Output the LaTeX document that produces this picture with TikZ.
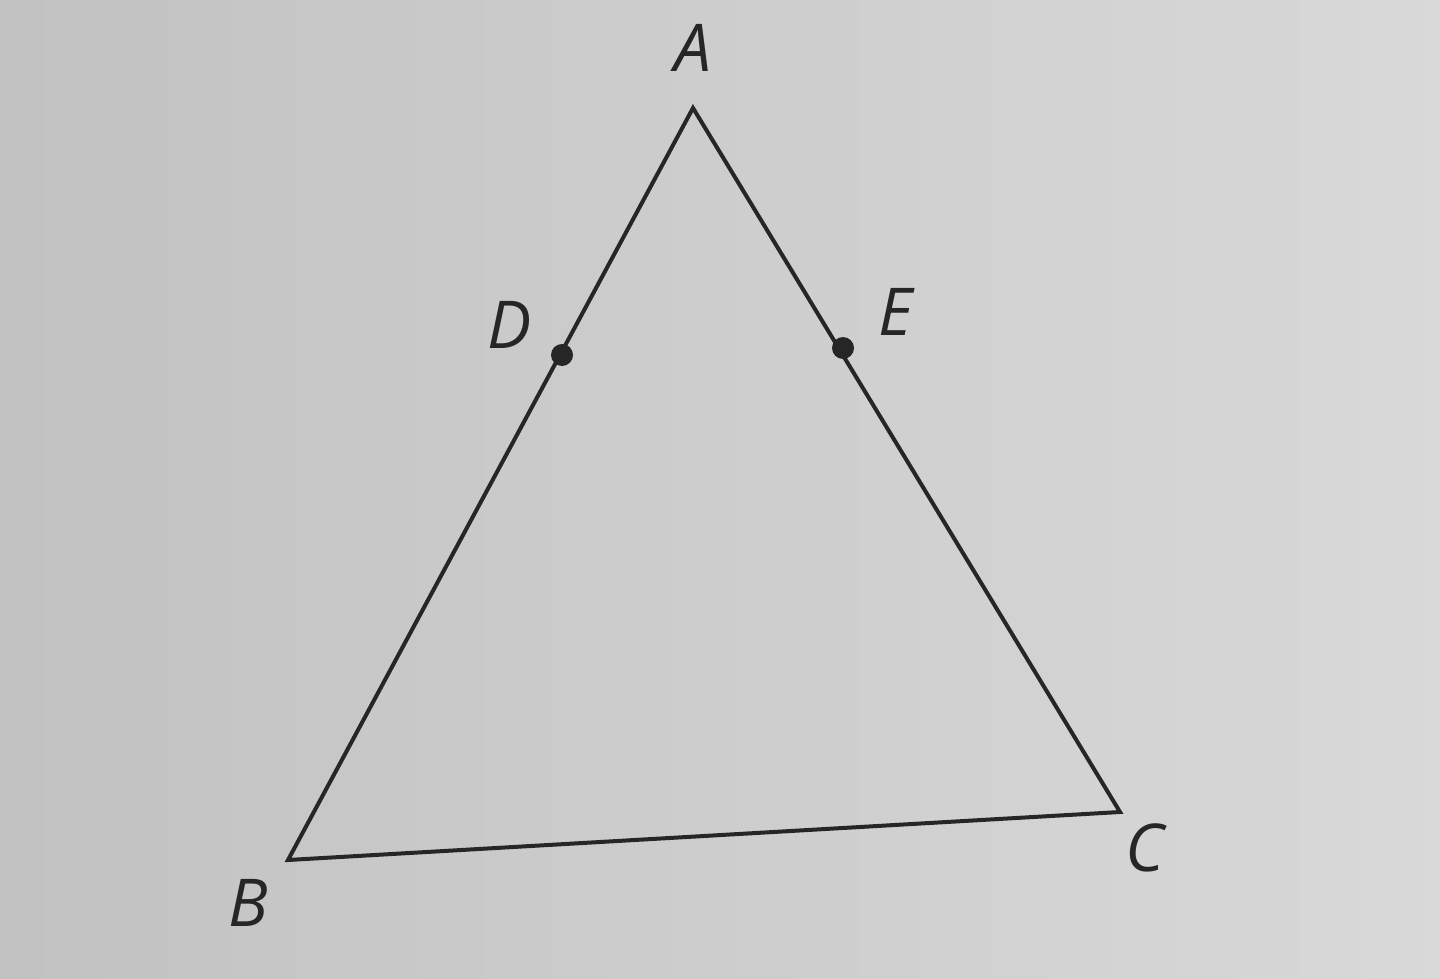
\documentclass[tikz,border=0pt]{standalone}
\usepackage{fontspec}
\setmainfont{Open Sans}
\begin{document}
\begin{tikzpicture}[x=1pt,y=-1pt,
  edge/.style={line width=4pt,draw=black!85,line join=miter},
  lbl/.style={font=\fontsize{66}{78}\selectfont\itshape,text=black!85,inner sep=0pt},
  pt/.style={circle,fill=black!85,minimum size=22pt,inner sep=0pt}]
\shade[left color=black!24,right color=black!15] (0,0) rectangle (1440,979);
\useasboundingbox (0,0) rectangle (1440,979);
\coordinate (A) at (693,108);
\coordinate (B) at (288,860);
\coordinate (C) at (1120,812);
\draw[edge] (A) -- (B) -- (C) -- cycle;
\node[pt] (D) at (562,355) {};
\node[pt] (E) at (843,348) {};
\node[lbl] (lA) at (693,48) {A};
\node[lbl] (lB) at (248,903) {B};
\node[lbl] (lC) at (1145,848) {C};
\node[lbl] (lD) at (510,325) {D};
\node[lbl] (lE) at (896,312) {E};
\end{tikzpicture}
\end{document}
